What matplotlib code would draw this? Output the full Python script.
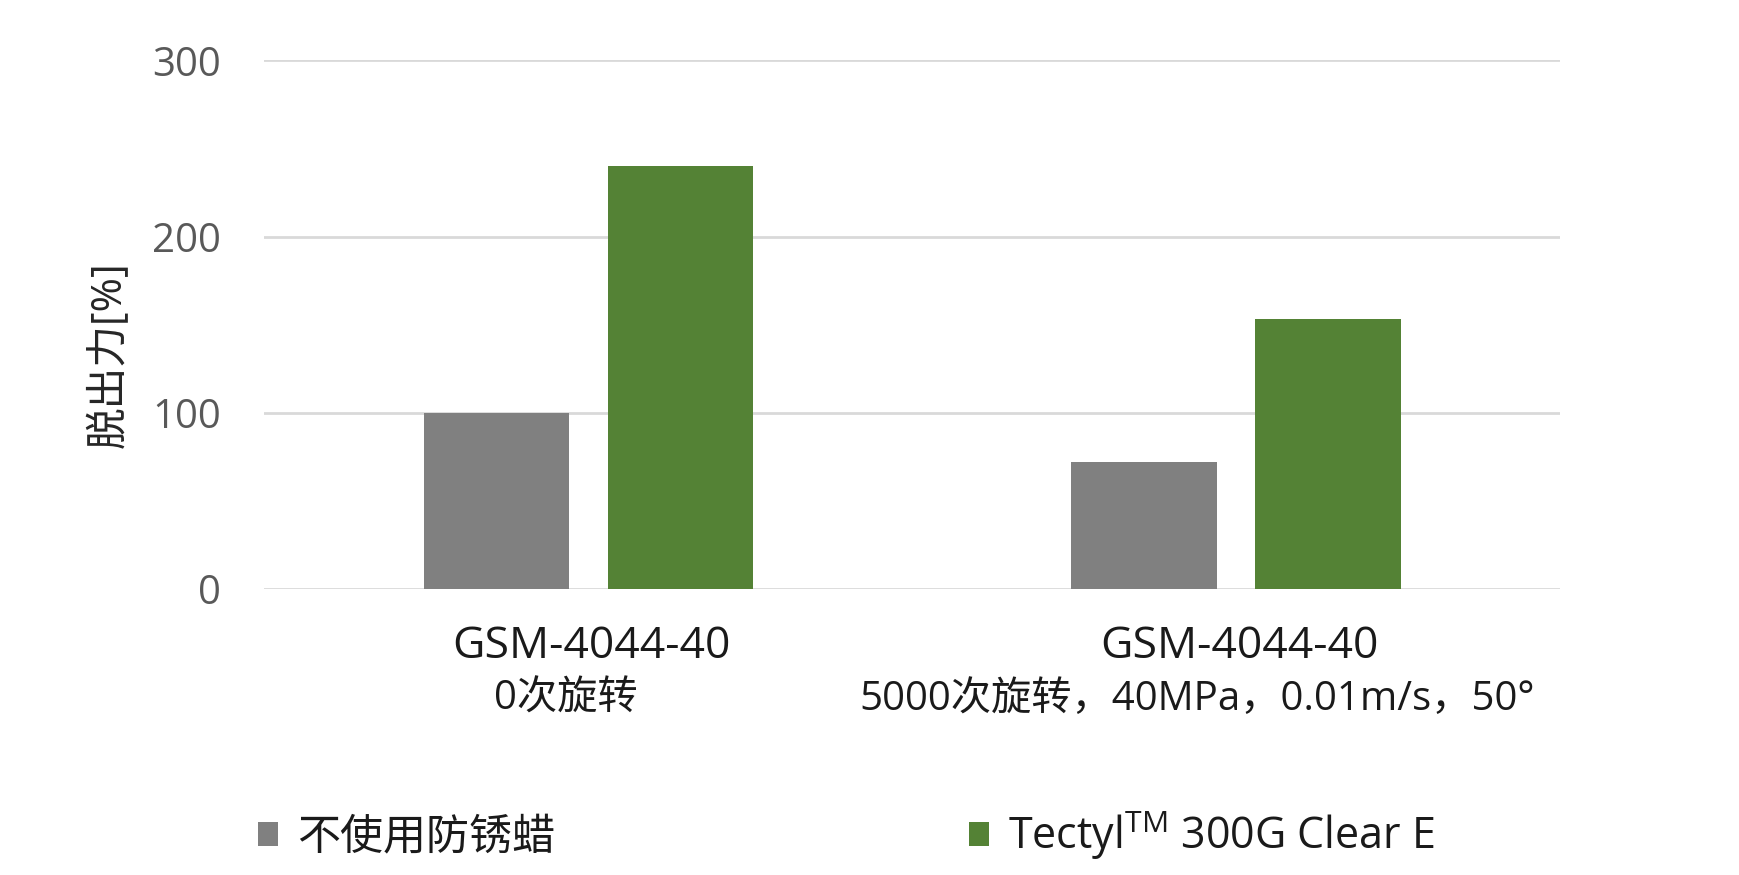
import matplotlib
matplotlib.use('Agg')
import matplotlib.pyplot as plt
import matplotlib.transforms as mtransforms
import numpy as np

plt.rcParams['font.family'] = ['Open Sans', 'Noto Sans CJK SC', 'DejaVu Sans']
plt.rcParams['mathtext.fontset'] = 'custom'
plt.rcParams['mathtext.rm'] = 'Open Sans'

# 数据
categories_line1 = ['GSM-4044-40', 'GSM-4044-40']
categories_line2 = ['0次旋转', '5000次旋转，40MPa，0.01m/s，50°']
series_names = ['不使用防锈蜡', r'Tectyl$^{\mathrm{TM}}$ 300G Clear E']
no_wax = [100, 72]
tectyl = [240, 153]
yticks = [0, 100, 200, 300]
ylabel = '脱出力[%]'

gray = '#808080'
green = '#548235'
grid_c = '#d9d9d9'

fig = plt.figure(figsize=(17.39, 8.75), dpi=100)
ax = fig.add_axes([0.152, 0.327, 0.745, 0.604])

x = np.arange(len(categories_line1))
w = 0.224
off = 0.142
b1 = ax.bar(x - off, no_wax, w, color=gray, label=series_names[0], zorder=3)
b2 = ax.bar(x + off, tectyl, w, color=green, label=series_names[1], zorder=3)

ax.set_xlim(-0.5, 1.5)
ax.set_ylim(0, 300)
ax.set_yticks(yticks)
ax.yaxis.grid(True, color=grid_c, linewidth=2, zorder=0)
ax.tick_params(axis='y', length=0, pad=31, labelsize=29, labelcolor='#595959')
ax.tick_params(axis='x', length=0, labelbottom=False)
for s in ax.spines.values():
    s.set_visible(False)

ax.set_ylabel(ylabel, fontsize=30, color='#262626')
ax.yaxis.set_label_coords(-0.103, 0.444)

# 类别标签（两行）
trans = mtransforms.blended_transform_factory(ax.transData, ax.transAxes)
shift2 = [-0.034, -0.06]
for i in range(len(x)):
    ax.text(x[i] + 0.005, -0.109, categories_line1[i], transform=trans,
            ha='center', va='center', fontsize=32, color='#1a1a1a')
    ax.text(x[i] + shift2[i], -0.209, categories_line2[i], transform=trans,
            ha='center', va='center', fontsize=29, color='#1a1a1a')

fig.legend(handles=[b1, b2], labels=series_names, loc='center left',
           bbox_to_anchor=(0.126, 0.045), ncol=2, frameon=False,
           fontsize=31, handlelength=0.47, handleheight=0.47,
           handletextpad=0.45, columnspacing=9.6, labelcolor='#1a1a1a')

fig.savefig('out.png', dpi=100, facecolor='white')
